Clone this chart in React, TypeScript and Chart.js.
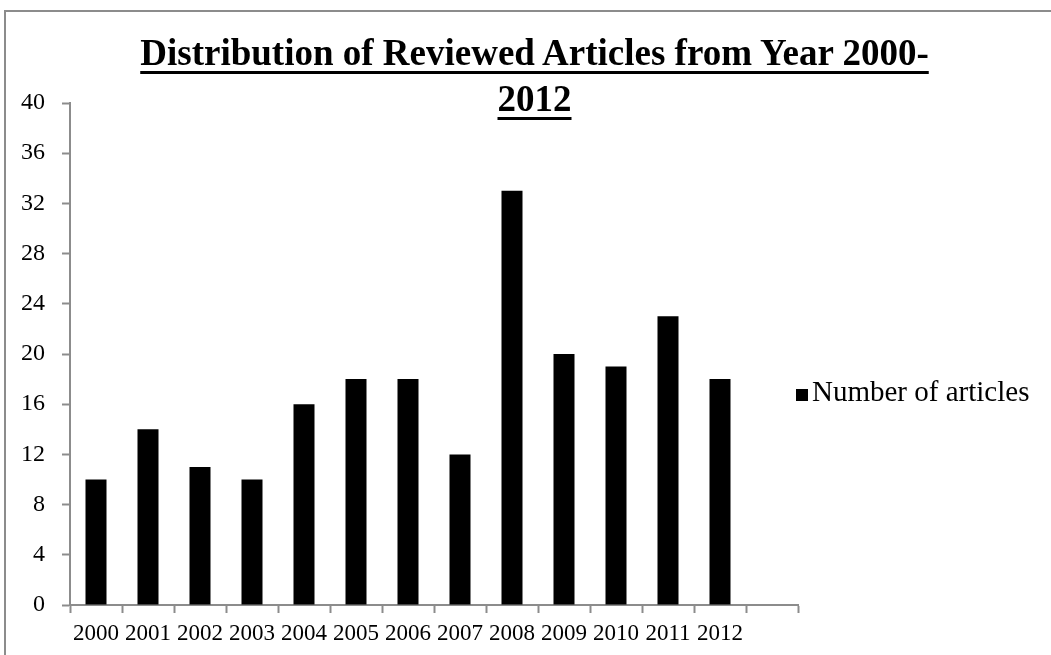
import React, { useEffect, useRef } from "react";
import { Chart, registerables } from "chart.js";

Chart.register(...registerables);

const categories: string[] = ["2000", "2001", "2002", "2003", "2004", "2005", "2006", "2007", "2008", "2009", "2010", "2011", "2012", ""];
const articleCounts: (number | null)[] = [10, 14, 11, 10, 16, 18, 18, 12, 33, 20, 19, 23, 18, null];
const seriesName = "Number of articles";
const titleLines: string[] = ["Distribution of Reviewed Articles from Year 2000-", "2012"];
const yMin = 0;
const yMax = 40;
const yStep = 4;

const SERIF = "'Liberation Serif', 'Times New Roman', serif";
const AXIS_GRAY = "#8c8c8c";

export default function App() {
  const canvasRef = useRef<HTMLCanvasElement | null>(null);

  useEffect(() => {
    const canvas = canvasRef.current;
    if (!canvas) return;
    const chart = new Chart(canvas, {
      type: "bar",
      data: {
        labels: categories,
        datasets: [
          {
            label: seriesName,
            data: articleCounts,
            backgroundColor: "#000000",
            borderWidth: 0,
            categoryPercentage: 1,
            barPercentage: 0.404,
          },
        ],
      },
      options: {
        responsive: false,
        animation: false,
        layout: { padding: { top: 103, right: 253, bottom: 0, left: 0 } },
        plugins: {
          legend: { display: false },
          title: { display: false },
          tooltip: { enabled: false },
        },
        scales: {
          x: {
            type: "category",
            offset: true,
            grid: {
              display: true,
              offset: true,
              drawOnChartArea: false,
              drawTicks: true,
              tickLength: 8,
              tickColor: AXIS_GRAY,
              tickWidth: 2,
            },
            border: { display: true, color: AXIS_GRAY, width: 2 },
            ticks: {
              autoSkip: false,
              maxRotation: 0,
              minRotation: 0,
              padding: 7,
              color: "#000000",
              font: { family: SERIF, size: 23 },
            },
            afterFit: (scale: any) => {
              scale.height = 50;
            },
          },
          y: {
            type: "linear",
            min: yMin,
            max: yMax,
            ticks: {
              stepSize: yStep,
              padding: 17,
              color: "#000000",
              font: { family: SERIF, size: 24 },
            },
            grid: {
              display: true,
              drawOnChartArea: false,
              drawTicks: true,
              tickLength: 8,
              tickColor: AXIS_GRAY,
              tickWidth: 2,
            },
            border: { display: true, color: AXIS_GRAY, width: 2 },
            afterFit: (scale: any) => {
              scale.width = 70;
            },
          },
        },
      },
    });
    return () => chart.destroy();
  }, []);

  return (
    <div
      style={{
        position: "absolute",
        left: 0,
        top: 0,
        width: 1051,
        height: 655,
        overflow: "hidden",
        background: "#ffffff",
      }}
    >
      <div
        style={{
          position: "absolute",
          left: 4,
          top: 10,
          width: 1100,
          height: 700,
          border: `2px solid ${AXIS_GRAY}`,
          boxSizing: "border-box",
        }}
      />
      <canvas
        ref={canvasRef}
        width={1051}
        height={655}
        style={{ position: "absolute", left: 0, top: 0, width: 1051, height: 655 }}
      />
      <div
        style={{
          position: "absolute",
          left: 0,
          top: 30,
          width: 1069,
          textAlign: "center",
          fontFamily: SERIF,
          fontWeight: "bold",
          fontSize: 37,
          lineHeight: "46px",
          color: "#000",
        }}
      >
        {titleLines.map((line, i) => (
          <div key={i}>
            <span
              style={{
                textDecoration: "underline",
                textDecorationThickness: "3px",
                textUnderlineOffset: "6px",
              }}
            >
              {line}
            </span>
          </div>
        ))}
      </div>
      <div
        style={{
          position: "absolute",
          left: 796,
          top: 389,
          width: 12,
          height: 12,
          background: "#000",
        }}
      />
      <div
        style={{
          position: "absolute",
          left: 812,
          top: 375,
          fontFamily: SERIF,
          fontSize: 29,
          lineHeight: "32px",
          color: "#000",
          whiteSpace: "nowrap",
        }}
      >
        {seriesName}
      </div>
    </div>
  );
}
